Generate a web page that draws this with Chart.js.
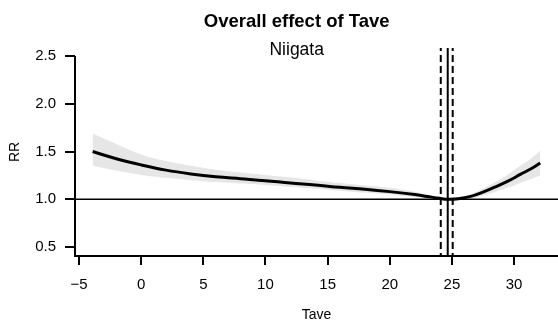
<!DOCTYPE html>
<html>
<head>
<meta charset="utf-8">
<script src="https://cdn.jsdelivr.net/npm/chart.js@4.4.1/dist/chart.umd.min.js"></script>
<style>
  html, body { margin: 0; padding: 0; background: #ffffff; }
  #wrap { width: 558px; height: 324px; }
</style>
</head>
<body>
<div id="wrap"><canvas id="chart" width="558" height="324"></canvas></div>
<script>
// Temperature grid (°C) and cumulative relative risk with 95% CI
const temps  = [-3.9, -2, 0, 2, 4, 6, 8, 10, 12, 14, 16, 18, 20, 22, 23, 24, 24.66, 25.5, 26.5, 27.5, 28.5, 29.5, 30.5, 31.5, 32.1];
const rr     = [1.50, 1.425, 1.36, 1.305, 1.265, 1.235, 1.215, 1.195, 1.17, 1.15, 1.125, 1.105, 1.08, 1.05, 1.03, 1.01, 1.00, 1.005, 1.03, 1.075, 1.13, 1.19, 1.26, 1.33, 1.38];
const rrLow  = [1.35, 1.30, 1.255, 1.225, 1.20, 1.18, 1.165, 1.15, 1.13, 1.11, 1.09, 1.07, 1.05, 1.025, 1.015, 1.003, 1.00, 0.998, 1.01, 1.04, 1.08, 1.12, 1.17, 1.22, 1.25];
const rrHigh = [1.69, 1.58, 1.47, 1.40, 1.35, 1.31, 1.28, 1.255, 1.23, 1.20, 1.17, 1.145, 1.12, 1.08, 1.05, 1.02, 1.00, 1.012, 1.05, 1.11, 1.18, 1.26, 1.35, 1.44, 1.51];

// Minimum-mortality temperature and its confidence limits
const mmt = 24.66;
const mmtCI = [24.1, 25.06];
const refRR = 1;

// Axis ticks
const xTicks = [-5, 0, 5, 10, 15, 20, 25, 30];
const yTicks = [0.5, 1.0, 1.5, 2.0, 2.5];

const titleText = 'Overall effect of Tave';
const subtitleText = 'Niigata';

const FONT = '"Liberation Sans", Arial, Helvetica, sans-serif';

const toPoints = (vals) => temps.map((t, i) => ({ x: t, y: vals[i] }));

// Axis line, reference lines and titles drawn with the chart's scales
const overlay = {
  id: 'overlay',
  afterDatasetsDraw(chart) {
    const { ctx, chartArea, scales } = chart;
    const xs = scales.x, ys = scales.y;
    ctx.save();
    ctx.strokeStyle = '#000';

    // left axis line (from top tick down to the x axis)
    ctx.lineWidth = 2;
    ctx.beginPath();
    ctx.moveTo(chartArea.left, ys.getPixelForValue(yTicks[yTicks.length - 1]));
    ctx.lineTo(chartArea.left, chartArea.bottom);
    ctx.stroke();

    // reference RR = 1
    ctx.lineWidth = 1.6;
    const yRef = ys.getPixelForValue(refRR);
    ctx.beginPath();
    ctx.moveTo(chartArea.left, yRef);
    ctx.lineTo(chartArea.right, yRef);
    ctx.stroke();

    // MMT
    ctx.lineWidth = 2;
    const xm = xs.getPixelForValue(mmt);
    ctx.beginPath();
    ctx.moveTo(xm, chartArea.top);
    ctx.lineTo(xm, chartArea.bottom);
    ctx.stroke();

    // MMT confidence limits
    ctx.setLineDash([7, 4]);
    ctx.lineDashOffset = -7;
    mmtCI.forEach(v => {
      const xp = xs.getPixelForValue(v);
      ctx.beginPath();
      ctx.moveTo(xp, chartArea.top);
      ctx.lineTo(xp, chartArea.bottom);
      ctx.stroke();
    });
    ctx.setLineDash([]);

    // titles
    ctx.fillStyle = '#000';
    ctx.textAlign = 'center';
    ctx.textBaseline = 'middle';
    ctx.font = 'bold 18.5px ' + FONT;
    ctx.fillText(titleText, 296.7, 21.7);
    ctx.font = '17.5px ' + FONT;
    ctx.fillText(subtitleText, 296.7, 50);
    ctx.restore();
  }
};

new Chart(document.getElementById('chart').getContext('2d'), {
  type: 'line',
  data: {
    datasets: [
      {
        label: 'RR',
        data: toPoints(rr),
        borderColor: '#000',
        borderWidth: 3,
        pointRadius: 0,
        fill: false,
        tension: 0.4,
        order: 0
      },
      {
        label: 'upper',
        data: toPoints(rrHigh),
        borderColor: 'transparent',
        borderWidth: 0,
        backgroundColor: '#e6e6e6',
        pointRadius: 0,
        fill: '+1',
        tension: 0.4,
        order: 1
      },
      {
        label: 'lower',
        data: toPoints(rrLow),
        borderColor: 'transparent',
        borderWidth: 0,
        pointRadius: 0,
        fill: false,
        tension: 0.4,
        order: 2
      }
    ]
  },
  options: {
    responsive: false,
    animation: false,
    devicePixelRatio: 1,
    layout: { autoPadding: false, padding: { top: 48, left: 0, right: 0, bottom: 0 } },
    plugins: {
      legend: { display: false },
      title: { display: false },
      tooltip: { enabled: false }
    },
    scales: {
      x: {
        type: 'linear',
        position: 'bottom',
        min: -5.32,
        max: 33.53,
        afterBuildTicks: s => { s.ticks = xTicks.map(v => ({ value: v })); },
        afterFit: s => { s.height = 68; },
        ticks: {
          autoSkip: false,
          maxRotation: 0,
          color: '#000',
          padding: 11,
          font: { family: FONT, size: 15 },
          callback: v => (v < 0 ? '\u2212' + Math.abs(v) : String(v))
        },
        grid: { drawOnChartArea: false, color: '#000', lineWidth: 2, tickLength: 9 },
        border: { display: true, color: '#000', width: 2 },
        title: {
          display: true,
          text: 'Tave',
          color: '#000',
          font: { family: FONT, size: 14 },
          padding: { top: 2, bottom: 0 }
        }
      },
      y: {
        type: 'linear',
        position: 'left',
        min: 0.406,
        max: 2.584,
        afterBuildTicks: s => { s.ticks = yTicks.map(v => ({ value: v })); },
        afterFit: s => { s.width = 75; },
        ticks: {
          color: '#000',
          padding: 9,
          font: { family: FONT, size: 15 },
          callback: v => v.toFixed(1)
        },
        grid: { drawOnChartArea: false, color: '#000', lineWidth: 2, tickLength: 10 },
        border: { display: false },
        title: {
          display: true,
          text: 'RR',
          color: '#000',
          font: { family: FONT, size: 14 },
          padding: { top: 7, bottom: 0 }
        }
      }
    }
  },
  plugins: [overlay]
});
</script>
</body>
</html>
